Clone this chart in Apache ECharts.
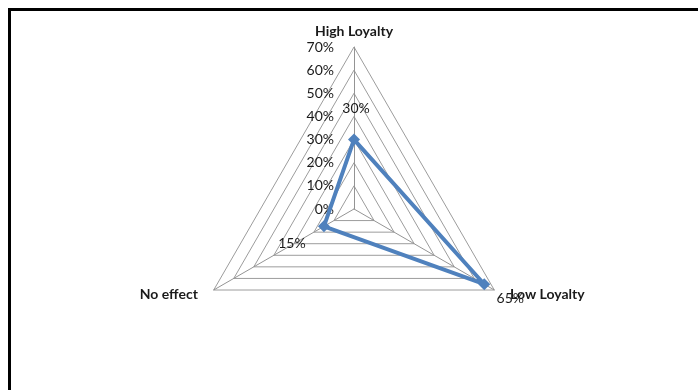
<!DOCTYPE html>
<html>
<head>
<meta charset="utf-8">
<script src="https://cdn.jsdelivr.net/npm/echarts@6/dist/echarts.min.js"></script>
<style>
  html, body { margin: 0; padding: 0; background: #fff; }
  #frame { position: absolute; left: 8px; top: 8px; width: 700px; height: 400px;
           border-left: 3px solid #000; border-top: 3px solid #000; }
  #chart { position: absolute; left: 0; top: 0; width: 698px; height: 390px; }
</style>
</head>
<body>
<div id="frame"></div>
<div id="chart"></div>
<script>
// Survey outcome by loyalty group (axes run counter-clockwise from the top)
const categories = ['High Loyalty', 'No effect', 'Low Loyalty'];
const values = [30, 15, 65];
const maxValue = 70;
const tickStep = 10;

const font = 'Lato, "Open Sans", sans-serif';
const textColor = '#1a1a1a';

// per-point label nudges (rich styles keyed by axis index)
const labelRich = {
  d0: { padding: [0, 0, 62, 4], fontSize: 14, color: textColor, fontFamily: font },
  d1: { padding: [34, 64, 0, 0], fontSize: 14, color: textColor, fontFamily: font },
  d2: { padding: [28, 0, 0, 52], fontSize: 14, color: textColor, fontFamily: font }
};

const nameStyle = { color: textColor, fontFamily: font, fontSize: 14, fontWeight: 'bold' };

const chart = echarts.init(document.getElementById('chart'));
chart.setOption({
  animation: false,
  radar: {
    center: [354, 209],
    radius: 162,
    startAngle: 90,
    shape: 'polygon',
    splitNumber: maxValue / tickStep,
    indicator: categories.map((name, i) => ({
      name: name,
      min: 0,
      max: maxValue,
      axisLabel: i === 0 ? {
        show: true,
        formatter: v => v + '%',
        fontFamily: font,
        fontSize: 14,
        color: textColor,
        margin: 20
      } : { show: false }
    })),
    axisName: {
      ...nameStyle,
      formatter: (name) => {
        const i = categories.indexOf(name);
        return '{n' + i + '|' + name + '}';
      },
      rich: {
        n0: { ...nameStyle },
        n1: { ...nameStyle, padding: [0, 8, 0, 0] },
        n2: { ...nameStyle, padding: [0, 0, 0, 8] }
      }
    },
    nameGap: 9,
    axisLine: { lineStyle: { color: '#949494', width: 1 } },
    splitLine: { lineStyle: { color: '#9c9c9c', width: 1 } },
    splitArea: { show: false },
    axisTick: { show: false }
  },
  series: [{
    type: 'radar',
    symbol: 'diamond',
    symbolSize: 12,
    lineStyle: { color: '#4f81bd', width: 4 },
    itemStyle: { color: '#4f81bd' },
    label: {
      show: true,
      position: 'inside',
      formatter: p => '{d' + p.dimensionIndex + '|' + p.value + '%}',
      rich: labelRich
    },
    data: [{ value: values }]
  }]
});
</script>
</body>
</html>
